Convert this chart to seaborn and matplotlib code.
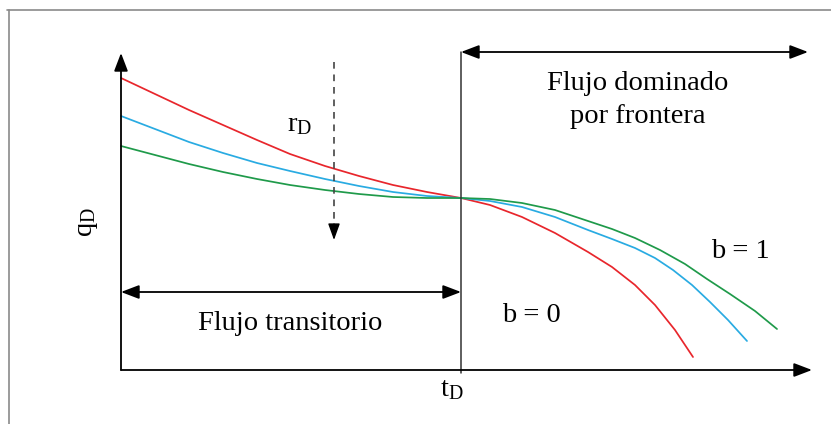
import matplotlib
matplotlib.use("Agg")
import matplotlib.pyplot as plt
from matplotlib.lines import Line2D
import pandas as pd
import seaborn as sns

# Dimensionless time (t_D) and rate (q_D) samples for each decline curve
# (arbitrary units; the transient/boundary change happens at t_D = 340)
t_red = [0, 34, 68, 102, 136, 169, 204, 238, 272, 306, 340,
         369, 401, 434, 467, 491, 514, 534, 554, 572]
q_red = [292, 276, 260, 245, 230, 216, 204, 194, 185, 178, 172,
         165, 153, 137, 118, 103, 85, 65, 40, 13]

t_blue = [0, 34, 68, 102, 136, 169, 204, 238, 272, 306, 340,
          369, 401, 434, 467, 491, 514, 534, 552, 571, 589, 607, 626]
q_blue = [254, 241, 228, 217, 207, 199, 191, 184, 178, 174, 172,
          169, 163, 153, 140, 131, 122, 112, 100, 85, 68, 50, 29]

t_green = [0, 34, 68, 102, 136, 169, 204, 238, 272, 306, 340,
           369, 401, 434, 467, 491, 514, 539, 564, 586, 609, 634, 656]
q_green = [224, 215, 206, 198, 191, 185, 180, 176, 173, 172, 172,
           171, 167, 160, 149, 141, 132, 120, 106, 91, 76, 59, 41]

curve_names = ["b0", "bmid", "b1"]
curve_colors = {"b0": "#e8262c", "bmid": "#29abe2", "b1": "#1f9a4a"}

t_boundary = 340

df = pd.concat([
    pd.DataFrame({"t": t_red, "q": q_red, "curve": "b0"}),
    pd.DataFrame({"t": t_blue, "q": q_blue, "curve": "bmid"}),
    pd.DataFrame({"t": t_green, "q": q_green, "curve": "b1"}),
], ignore_index=True)

sns.set_style("white")
plt.rcParams["font.family"] = ["Liberation Serif", "DejaVu Serif"]
plt.rcParams["mathtext.fontset"] = "custom"
plt.rcParams["mathtext.rm"] = "Liberation Serif"
plt.rcParams["mathtext.it"] = "Liberation Serif:italic"
plt.rcParams["text.color"] = "black"

fig = plt.figure(figsize=(8.31, 4.24), dpi=100)
ax = fig.add_axes([0, 0, 1, 1])

sns.lineplot(data=df, x="t", y="q", hue="curve", hue_order=curve_names,
             palette=curve_colors, linewidth=1.25, legend=False, ax=ax,
             estimator=None, sort=False)

ax.set_xlim(-121, 710)
ax.set_ylim(-54, 370)
ax.axis("off")


def arrow(x0, y0, x1, y1, style="-|>", color="black", lw=1.3, ls="-",
          hl=11, hw=4.2):
    ax.annotate("", xy=(x1, y1), xytext=(x0, y0),
                arrowprops=dict(arrowstyle=f"{style},head_length={hl},head_width={hw}",
                                mutation_scale=1, color=color, lw=lw, ls=ls,
                                shrinkA=0, shrinkB=0))


# Coordinate axes
arrow(0, 0, 0, 317)
arrow(0, 0, 691, 0)

# Boundary between flow regimes
ax.plot([t_boundary, t_boundary], [-3, 318], color="#333333", lw=1.1)

# Regime spans
arrow(t_boundary, 318, 687, 318, style="<|-|>")
arrow(0, 78, t_boundary, 78, style="<|-|>")

# Direction of increasing r_D
ax.plot([213, 213], [308, 142], color="#444444", lw=1.2, ls=(0, (4, 3.5)))
arrow(213, 146, 213, 130, color="black", lw=1.0, hl=10, hw=3.6)

fs = 20.5
ax.text(179, 245, r"r$_\mathrm{D}$", fontsize=fs, ha="center", va="center")
ax.text(517, 270, "Flujo dominado\npor frontera", fontsize=fs, ha="center",
        va="center", linespacing=1.45)
ax.text(169, 47, "Flujo transitorio", fontsize=fs, ha="center", va="center")
ax.text(410, 55, "b = 0", fontsize=fs, ha="center", va="center")
ax.text(619, 118, "b = 1", fontsize=fs, ha="center", va="center")
ax.text(331, -20, r"t$_\mathrm{D}$", fontsize=fs, ha="center", va="center")
ax.text(-34, 148, r"q$_\mathrm{D}$", fontsize=fs, ha="center", va="center",
        rotation=90)

# Thin gray frame on the top and left
fig.add_artist(Line2D([7 / 831, 1.0], [1 - 10 / 424, 1 - 10 / 424],
                      color="#8a8a8a", lw=1.2, transform=fig.transFigure))
fig.add_artist(Line2D([8.5 / 831, 8.5 / 831], [0.0, 1 - 10 / 424],
                      color="#8a8a8a", lw=1.2, transform=fig.transFigure))

fig.savefig("out.png", dpi=100, facecolor="white")
